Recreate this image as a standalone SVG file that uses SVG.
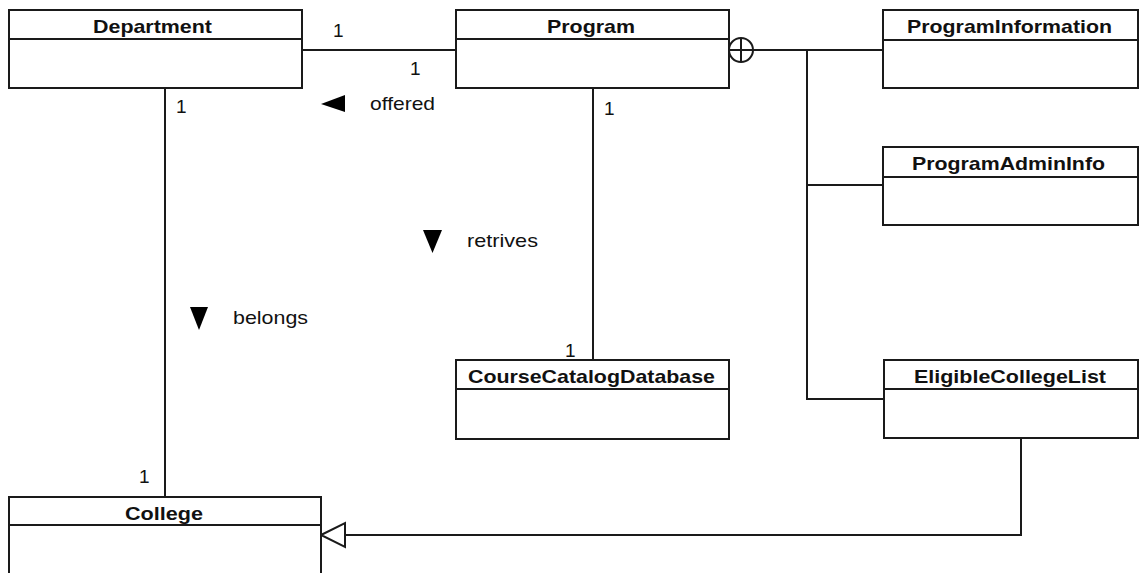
<svg xmlns="http://www.w3.org/2000/svg" width="1141" height="573" viewBox="0 0 1141 573">
<style>
.box{fill:#fff;stroke:#1a1a1a;stroke-width:2}
.div{stroke:#1a1a1a;stroke-width:2}
.t{font-family:"Liberation Sans",Arial,sans-serif;font-weight:bold;font-size:19px;fill:#111}
.l{font-family:"Liberation Sans",Arial,sans-serif;font-size:19px;fill:#111}
.c{fill:none;stroke:#1a1a1a;stroke-width:2}
</style>
<rect width="1141" height="573" fill="#fff"/>
<g id="connectors">
<line class="c" x1="302" y1="50" x2="456" y2="50"/>
<line class="c" x1="165" y1="88" x2="165" y2="497"/>
<line class="c" x1="593" y1="88" x2="593" y2="360"/>
<circle class="c" cx="741" cy="50" r="12"/>
<line class="c" x1="729" y1="50" x2="753" y2="50"/>
<line class="c" x1="741" y1="38" x2="741" y2="62"/>
<line class="c" x1="753" y1="50" x2="883" y2="50"/>
<polyline class="c" points="807,50 807,399 884,399"/>
<line class="c" x1="807" y1="185" x2="883" y2="185"/>
<polyline class="c" points="1021,438 1021,535 345,535"/>
<polygon points="321,535 345,523 345,547" fill="#fff" stroke="#1a1a1a" stroke-width="2"/>
<polygon points="321,104 345,95 345,112" fill="#000"/>
<polygon points="423,230 442,230 432.5,253" fill="#000"/>
<polygon points="190,307 208,307 199,330" fill="#000"/>
<text class="l" x="370" y="110" textLength="65" lengthAdjust="spacingAndGlyphs">offered</text>
<text class="l" x="467" y="247" textLength="71" lengthAdjust="spacingAndGlyphs">retrives</text>
<text class="l" x="233" y="324" textLength="75" lengthAdjust="spacingAndGlyphs">belongs</text>
<text class="l" x="333" y="37">1</text>
<text class="l" x="410" y="75">1</text>
<text class="l" x="176" y="113">1</text>
<text class="l" x="604" y="115">1</text>
<text class="l" x="565" y="357">1</text>
<text class="l" x="139" y="483">1</text>
</g>
<g id="department">
<rect class="box" x="9" y="10" width="293" height="78"/>
<line class="div" x1="9" y1="39" x2="302" y2="39"/>
<text class="t" x="93" y="33" textLength="119" lengthAdjust="spacingAndGlyphs">Department</text>
</g>
<g id="program">
<rect class="box" x="456" y="10" width="273" height="78"/>
<line class="div" x1="456" y1="39" x2="729" y2="39"/>
<text class="t" x="547" y="33" textLength="88" lengthAdjust="spacingAndGlyphs">Program</text>
</g>
<g id="programinformation">
<rect class="box" x="883" y="10" width="255" height="78"/>
<line class="div" x1="883" y1="40" x2="1138" y2="40"/>
<text class="t" x="907" y="33" textLength="205" lengthAdjust="spacingAndGlyphs">ProgramInformation</text>
</g>
<g id="programadmininfo">
<rect class="box" x="883" y="147" width="255" height="78"/>
<line class="div" x1="883" y1="177" x2="1138" y2="177"/>
<text class="t" x="912" y="170" textLength="193" lengthAdjust="spacingAndGlyphs">ProgramAdminInfo</text>
</g>
<g id="coursecatalogdatabase">
<rect class="box" x="456" y="360" width="273" height="79"/>
<line class="div" x1="456" y1="389" x2="729" y2="389"/>
<text class="t" x="468" y="383" textLength="247" lengthAdjust="spacingAndGlyphs">CourseCatalogDatabase</text>
</g>
<g id="eligiblecollegelist">
<rect class="box" x="884" y="360" width="254" height="78"/>
<line class="div" x1="884" y1="389" x2="1138" y2="389"/>
<text class="t" x="914" y="383" textLength="192" lengthAdjust="spacingAndGlyphs">EligibleCollegeList</text>
</g>
<g id="college">
<rect class="box" x="9" y="497" width="312" height="90"/>
<line class="div" x1="9" y1="525" x2="321" y2="525"/>
<text class="t" x="125" y="520" textLength="78" lengthAdjust="spacingAndGlyphs">College</text>
</g>
</svg>
